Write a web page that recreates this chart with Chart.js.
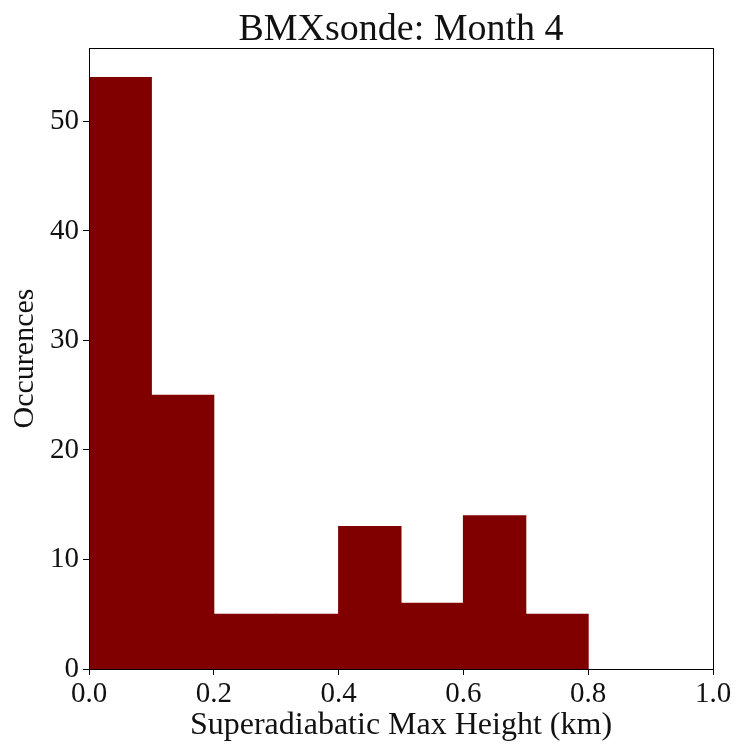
<!DOCTYPE html>
<html>
<head>
<meta charset="utf-8">
<script src="https://cdn.jsdelivr.net/npm/chart.js@4.4.1/dist/chart.umd.min.js"></script>
<style>
  html, body { margin: 0; padding: 0; background: #ffffff; }
  #wrap { width: 737px; height: 751px; }
</style>
</head>
<body>
<div id="wrap"><canvas id="c" width="737" height="751"></canvas></div>
<script>
// Histogram of superadiabatic layer maximum heights
const titleText = 'BMXsonde: Month 4';
const xLabel = 'Superadiabatic Max Height (km)';
const yLabel = 'Occurences';
const binEdges = [0.0, 0.1, 0.2, 0.3, 0.4, 0.5, 0.6, 0.7, 0.8, 0.9, 1.0];
const counts = [54, 25, 5, 5, 13, 6, 14, 5, 0, 0];
const xTickValues = [0.0, 0.2, 0.4, 0.6, 0.8, 1.0];
const yTickValues = [0, 10, 20, 30, 40, 50];

const FONT = "'Liberation Serif', 'DejaVu Serif', serif";
const barColor = '#800000';

// empty bins are left undrawn
const barData = counts.map((c, i) => ({ x: (binEdges[i] + binEdges[i + 1]) / 2, y: c === 0 ? null : c }));

// Title centred over the plot area, plus the closed axes frame
const framePlugin = {
  id: 'frame',
  afterDraw(chart) {
    const { ctx, chartArea: a } = chart;
    ctx.save();
    ctx.strokeStyle = '#000';
    ctx.lineWidth = 1;
    ctx.strokeRect(Math.round(a.left) + 0.5, Math.round(a.top) + 0.5,
                   Math.round(a.right - a.left), Math.round(a.bottom - a.top));
    ctx.fillStyle = '#111';
    ctx.font = '38px ' + FONT;
    ctx.textAlign = 'center';
    ctx.textBaseline = 'alphabetic';
    ctx.fillText(titleText, (a.left + a.right) / 2, 40);
    ctx.restore();
  }
};

new Chart(document.getElementById('c'), {
  type: 'bar',
  data: {
    datasets: [{
      data: barData,
      backgroundColor: barColor,
      borderWidth: 0,
      inflateAmount: 0.5,
      barPercentage: 1.0,
      categoryPercentage: 1.0
    }]
  },
  options: {
    responsive: false,
    animation: false,
    layout: { padding: { top: 48, right: 24, left: 0, bottom: 0 } },
    plugins: { legend: { display: false }, tooltip: { enabled: false }, title: { display: false } },
    scales: {
      x: {
        type: 'linear',
        min: 0, max: 1,
        offset: false,
        afterBuildTicks(scale) { scale.ticks = xTickValues.map(v => ({ value: v })); },
        afterFit(scale) { scale.height = 82; },
        ticks: {
          font: { family: FONT, size: 29 },
          color: '#111',
          padding: 2,
          maxRotation: 0,
          autoSkip: false,
          callback: v => Number(v).toFixed(1)
        },
        grid: { display: true, offset: false, drawOnChartArea: false, drawTicks: true, tickLength: 6, color: '#000' },
        border: { display: true, color: '#000', width: 1 },
        title: { display: true, text: xLabel, font: { family: FONT, size: 32 }, color: '#111', padding: { top: 0, bottom: 6 } }
      },
      y: {
        min: 0, max: 56.7,
        afterBuildTicks(scale) { scale.ticks = yTickValues.map(v => ({ value: v })); },
        afterFit(scale) { scale.width = 89; },
        ticks: {
          font: { family: FONT, size: 29 },
          color: '#111',
          padding: 4,
          autoSkip: false
        },
        grid: { display: true, offset: false, drawOnChartArea: false, drawTicks: true, tickLength: 6, color: '#000' },
        border: { display: true, color: '#000', width: 1 },
        title: { display: true, text: yLabel, font: { family: FONT, size: 30 }, color: '#111', padding: { top: 7, bottom: 0 } }
      }
    }
  },
  plugins: [framePlugin]
});
</script>
</body>
</html>
